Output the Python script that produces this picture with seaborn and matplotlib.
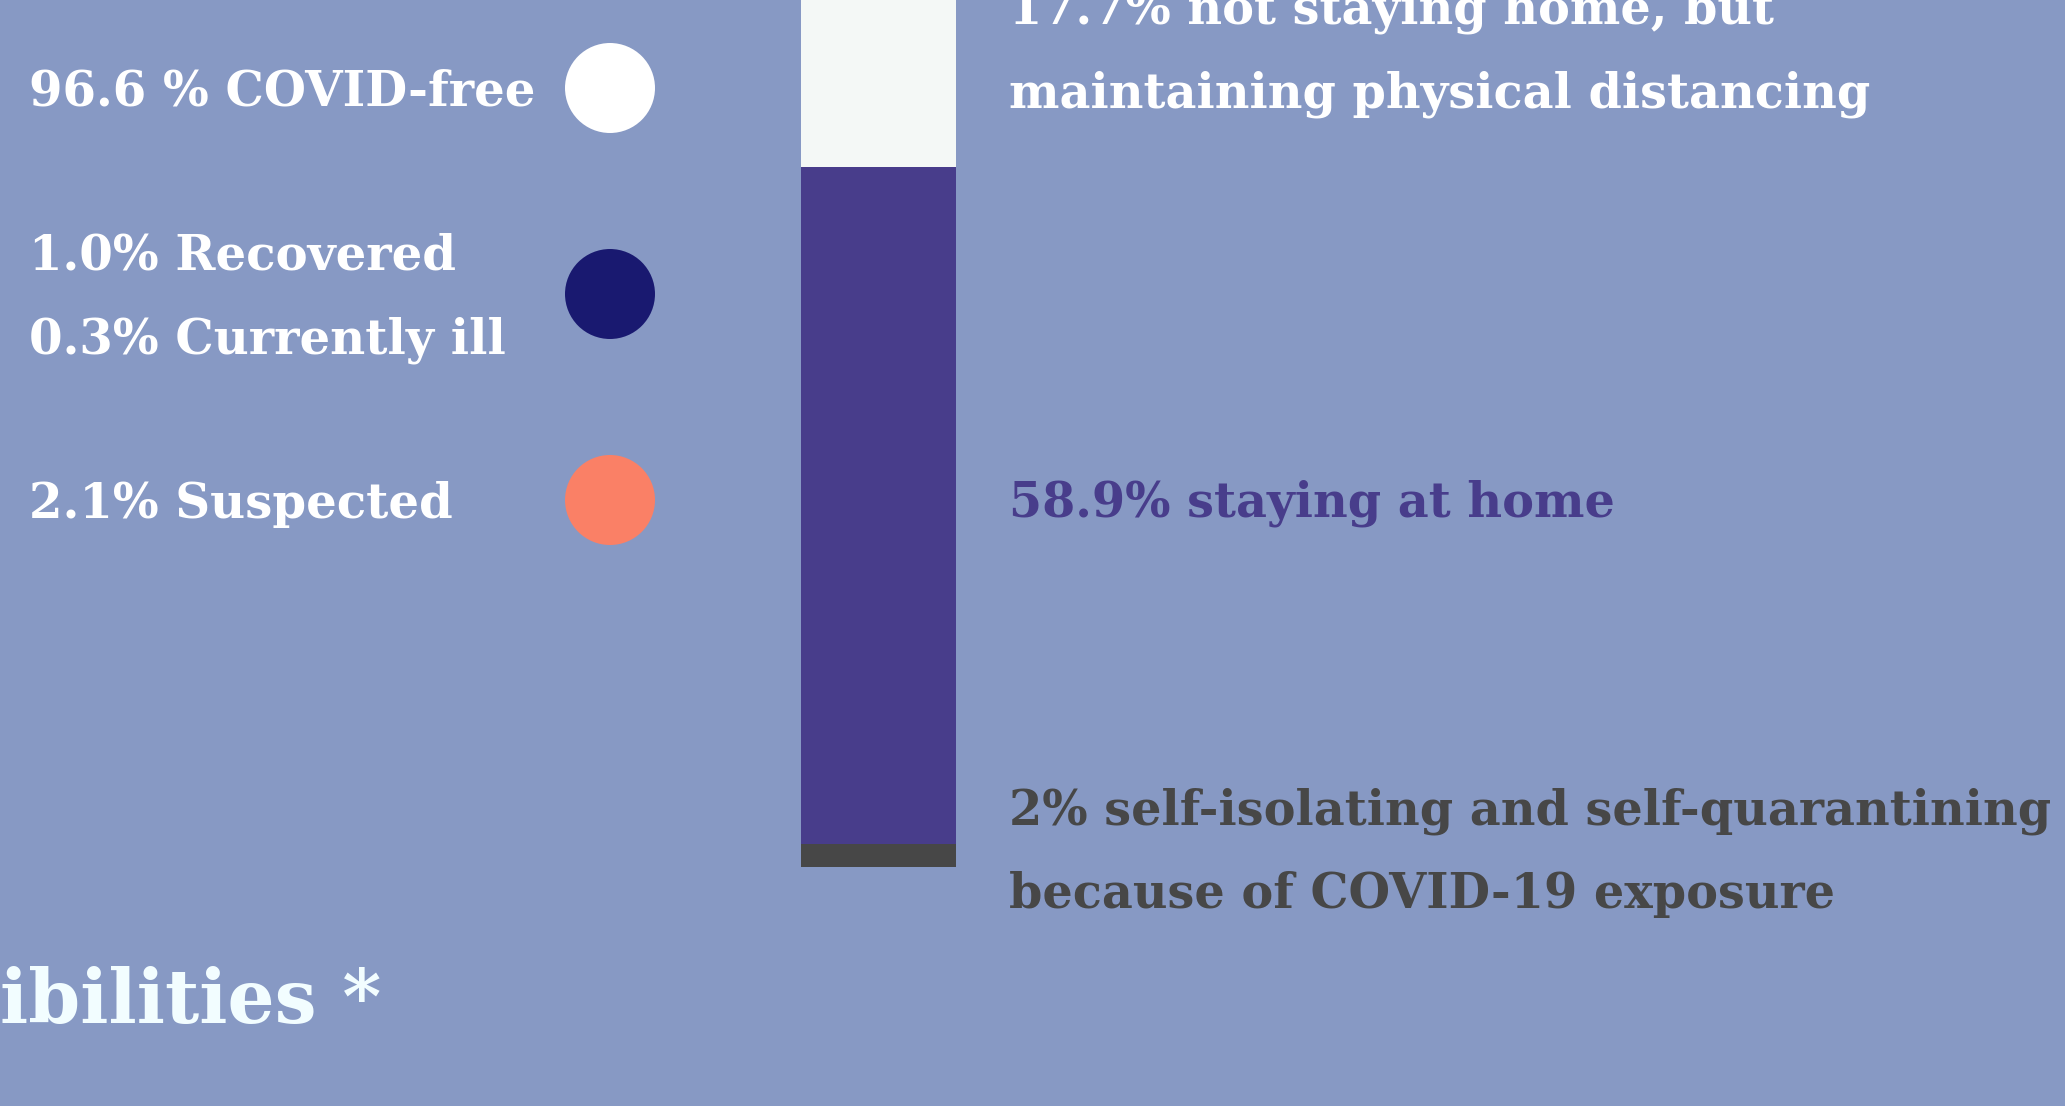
import numpy as np
import pandas as pd
import matplotlib
matplotlib.use("Agg")
import matplotlib.pyplot as plt
import matplotlib.transforms as mtransforms
import seaborn as sns

# ==============================
# 1. Data
# ==============================
segment_labels = ["self-isolating", "staying at home", "not staying home"]
segment_values = [2.0, 58.9, 17.7]
segment_colors = ["#474747", "#483D8B", "#F4F8F6"]
segment_texts = [
    "2% self-isolating and self-quarantining\nbecause of COVID-19 exposure",
    "58.9% staying at home",
    "17.7% not staying home, but\nmaintaining physical distancing",
]
segment_text_colors = ["#474747", "#483D8B", "#FFFFFF"]

status_texts = ["96.6 % COVID-free", "1.0% Recovered\n0.3% Currently ill", "2.1% Suspected"]
status_colors = ["#FFFFFF", "#191970", "#FA8066"]

title_tail = "ibilities *"

# ==============================
# 2. Layout constants (pixels)
# ==============================
W, H, DPI = 2065, 1106, 100
BG = "#8799C4"
PX_PER_PCT = 11.5        # bar scale
BAR_LEFT, BAR_W = 801, 155
BAR_ZERO = 867           # pixel row (from top) of the bar base
LINE_PX = 84             # baseline-to-baseline distance
ROW0, ROW_STEP = 88, 206 # legend row centres
TEXT_NUDGE = [0, 0, -10] # small vertical shifts of the right-hand labels

sns.set_theme(style="white", rc={"axes.facecolor": BG, "figure.facecolor": BG})
plt.rcParams["font.family"] = ["DejaVu Serif", "DejaVu Sans"]

fig = plt.figure(figsize=(W / DPI, H / DPI), dpi=DPI)
renderer = fig.canvas.get_renderer()


def px_to_fig_y(px_top):
    return 1 - px_top / H


def fit_size(text, target_px, weight="bold"):
    t = fig.text(0, 0, text, fontsize=40, fontweight=weight)
    w = t.get_window_extent(renderer).width
    t.remove()
    return 40 * target_px / w


# ==============================
# 3. Stacked bar
# ==============================
bar_ax = fig.add_axes([BAR_LEFT / W, 0, BAR_W / W, 1])
cum = np.cumsum(segment_values)
bar_df = pd.DataFrame({"group": ["share"] * len(cum), "top": cum, "segment": segment_labels})
for i in reversed(range(len(bar_df))):
    sns.barplot(data=bar_df.iloc[[i]], x="group", y="top", color=segment_colors[i],
                saturation=1, width=1.0, linewidth=0, ax=bar_ax)
bar_ax.set_xlim(-0.5, 0.5)
bar_ax.set_ylim(-(H - BAR_ZERO) / PX_PER_PCT, BAR_ZERO / PX_PER_PCT)
bar_ax.axis("off")

right_size = min(fit_size("maintaining physical distancing", 882),
                 fit_size("2% self-isolating and self-quarantining", 1040))
mids = cum - np.array(segment_values) / 2
for txt, col, mid, nudge in zip(segment_texts, segment_text_colors, mids, TEXT_NUDGE):
    lines = txt.split("\n")
    n = len(lines)
    for j, line in enumerate(lines):
        off = (j - (n - 1) / 2) * LINE_PX + 11 + nudge
        bar_ax.annotate(line, xy=(1, mid), xycoords=("axes fraction", "data"),
                        xytext=(1009 - (BAR_LEFT + BAR_W), -off), textcoords="offset pixels",
                        ha="left", va="baseline", color=col, fontsize=right_size,
                        fontweight="bold", annotation_clip=False)

# ==============================
# 4. Legend circles
# ==============================
leg_ax = fig.add_axes([564 / W, 0, 92 / W, 1])
rows = np.arange(len(status_texts))
leg_df = pd.DataFrame({"x": np.zeros(len(rows)), "row": rows, "label": status_texts})
sns.scatterplot(data=leg_df, x="x", y="row", hue="label", palette=status_colors,
                s=(90 * 72 / DPI) ** 2, linewidth=0, legend=False, ax=leg_ax)
leg_ax.set_xlim(-0.5, 0.5)
leg_ax.set_ylim((H - ROW0) / ROW_STEP, -ROW0 / ROW_STEP)
leg_ax.axis("off")

left_size = fit_size("96.6 % COVID-free", 507)
trans = mtransforms.blended_transform_factory(fig.transFigure, leg_ax.transData)
for txt, r in zip(status_texts, rows):
    lines = txt.split("\n")
    n = len(lines)
    for j, line in enumerate(lines):
        off = (j - (n - 1) / 2) * LINE_PX + 18
        leg_ax.annotate(line, xy=(29 / W, r), xycoords=trans,
                        xytext=(0, -off), textcoords="offset pixels",
                        ha="left", va="baseline", color="white", fontsize=left_size,
                        fontweight="bold", annotation_clip=False)

# ==============================
# 5. Title fragment
# ==============================
title_size = fit_size(title_tail, 380)
fig.text(0, px_to_fig_y(1023), title_tail, ha="left", va="baseline",
         color="#F2FDFF", fontsize=title_size, fontweight="bold")

fig.savefig("out.png", dpi=DPI, facecolor=BG)
